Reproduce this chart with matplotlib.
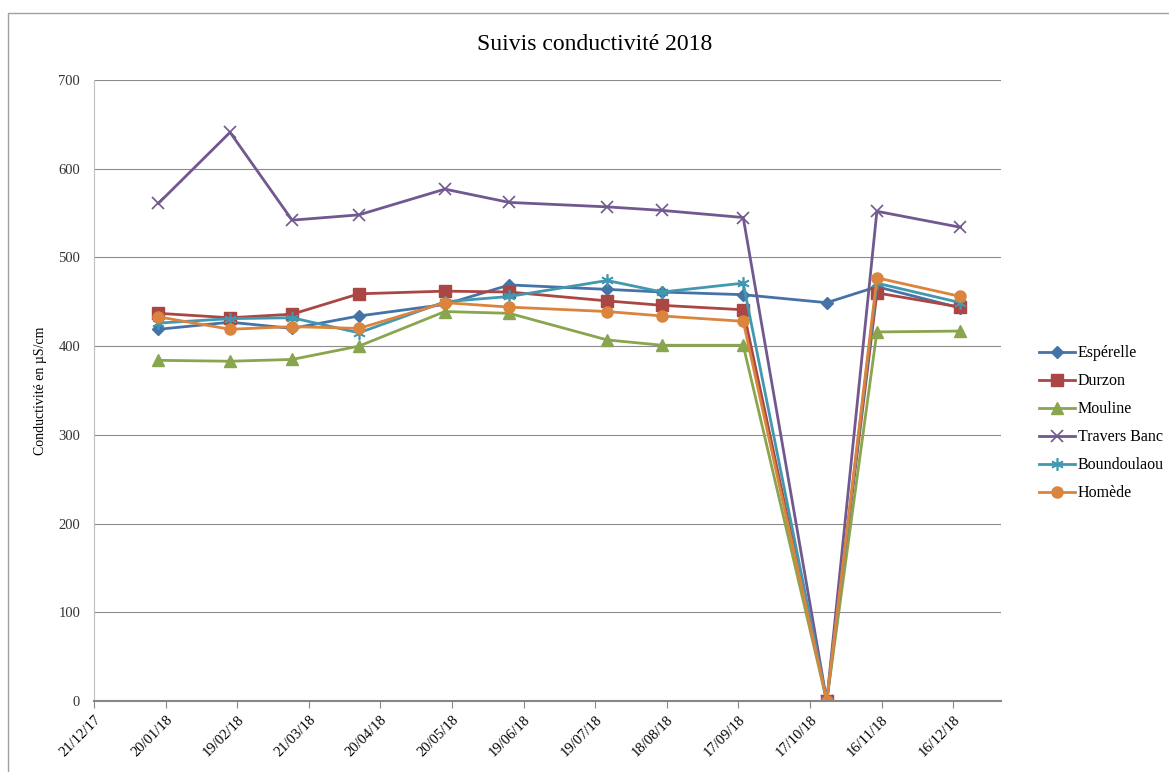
import datetime as dt
import matplotlib
matplotlib.use("Agg")
import matplotlib.pyplot as plt
import matplotlib.dates as mdates
from matplotlib.patches import Rectangle

# dates des prélèvements
dates = ["2018-01-17", "2018-02-16", "2018-03-14", "2018-04-11", "2018-05-17",
         "2018-06-13", "2018-07-24", "2018-08-16", "2018-09-19", "2018-10-24",
         "2018-11-14", "2018-12-19"]

esperelle = [419, 427, 420, 434, 447, 469, 464, 461, 458, 449, 467, 443]
durzon = [437, 432, 436, 459, 462, 461, 451, 446, 441, 0, 460, 444]
mouline = [384, 383, 385, 400, 439, 437, 407, 401, 401, 0, 416, 417]
travers_banc = [561, 641, 542, 548, 577, 562, 557, 553, 545, 0, 552, 534]
boundoulaou = [426, 431, 432, 415, 450, 456, 474, 461, 471, 0, 471, 449]
homede = [433, 419, 422, 420, 449, 444, 439, 434, 428, 0, 477, 456]

names = ["Espérelle", "Durzon", "Mouline", "Travers Banc", "Boundoulaou", "Homède"]
series = [esperelle, durzon, mouline, travers_banc, boundoulaou, homede]
colors = ["#4572A7", "#AA4643", "#89A54E", "#71588F", "#4198AF", "#DB843D"]
markers = ["D", "s", "^", "x", (6, 2, 0), "o"]

x = [dt.datetime.strptime(d, "%Y-%m-%d") for d in dates]
start = dt.datetime(2017, 12, 21)
ticks = [start + dt.timedelta(days=30 * i) for i in range(13)]

plt.rcParams["font.family"] = ["Liberation Serif", "DejaVu Serif"]

fig = plt.figure(figsize=(11.69, 7.72), dpi=100)
ax = fig.add_axes([94 / 1169, 1 - 701 / 772, (1001 - 94) / 1169, (701 - 80) / 772])

for vals, name, c, m in zip(series, names, colors, markers):
    if m == "x":
        ax.plot(x, vals, color=c, lw=2, marker=m, ms=8, mew=1.2, label=name)
    elif m == "D":
        ax.plot(x, vals, color=c, lw=2, marker=m, ms=6, label=name)
    elif m == "o" or m == "s" or m == "^":
        ax.plot(x, vals, color=c, lw=2, marker=m, ms=8, label=name)
    else:
        ax.plot(x, vals, color=c, lw=2, marker=m, ms=9, mew=1.2, label=name)

ax.set_xlim(start, start + dt.timedelta(days=380))
ax.set_ylim(0, 700)
ax.set_yticks(range(0, 701, 100))
ax.set_xticks(ticks)
ax.xaxis.set_major_formatter(mdates.DateFormatter("%d/%m/%y"))
plt.setp(ax.get_xticklabels(), rotation=45, ha="right", rotation_mode="anchor")

ax.grid(axis="y", color="#8c8c8c", lw=0.8)
ax.set_axisbelow(True)
for s in ["top", "right"]:
    ax.spines[s].set_visible(False)
ax.spines["left"].set_color("#bfbfbf")
ax.spines["bottom"].set_color("#868686")
ax.spines["bottom"].set_linewidth(1.5)
ax.tick_params(axis="y", length=0, pad=10, labelsize=10.5, colors="#333333")
ax.tick_params(axis="x", length=5, color="#868686", labelsize=10.5, pad=4)

ax.set_ylabel("Conductivité en µS/cm", fontsize=10, labelpad=8)
fig.suptitle("Suivis conductivité 2018", x=595 / 1169, y=1 - 45 / 772,
             va="center", fontsize=17)

fig.legend(loc="upper left", bbox_to_anchor=(1025 / 1169, 1 - 331 / 772),
           frameon=False, fontsize=11.5, handlelength=2.2, labelspacing=0.75,
           handletextpad=0.2)

fig.add_artist(Rectangle((8 / 1169, -0.1), 1.2, 1 - 13 / 772 + 0.1,
                         transform=fig.transFigure, fill=False,
                         edgecolor="#a0a0a0", lw=1))

fig.savefig("out.png", dpi=100)
